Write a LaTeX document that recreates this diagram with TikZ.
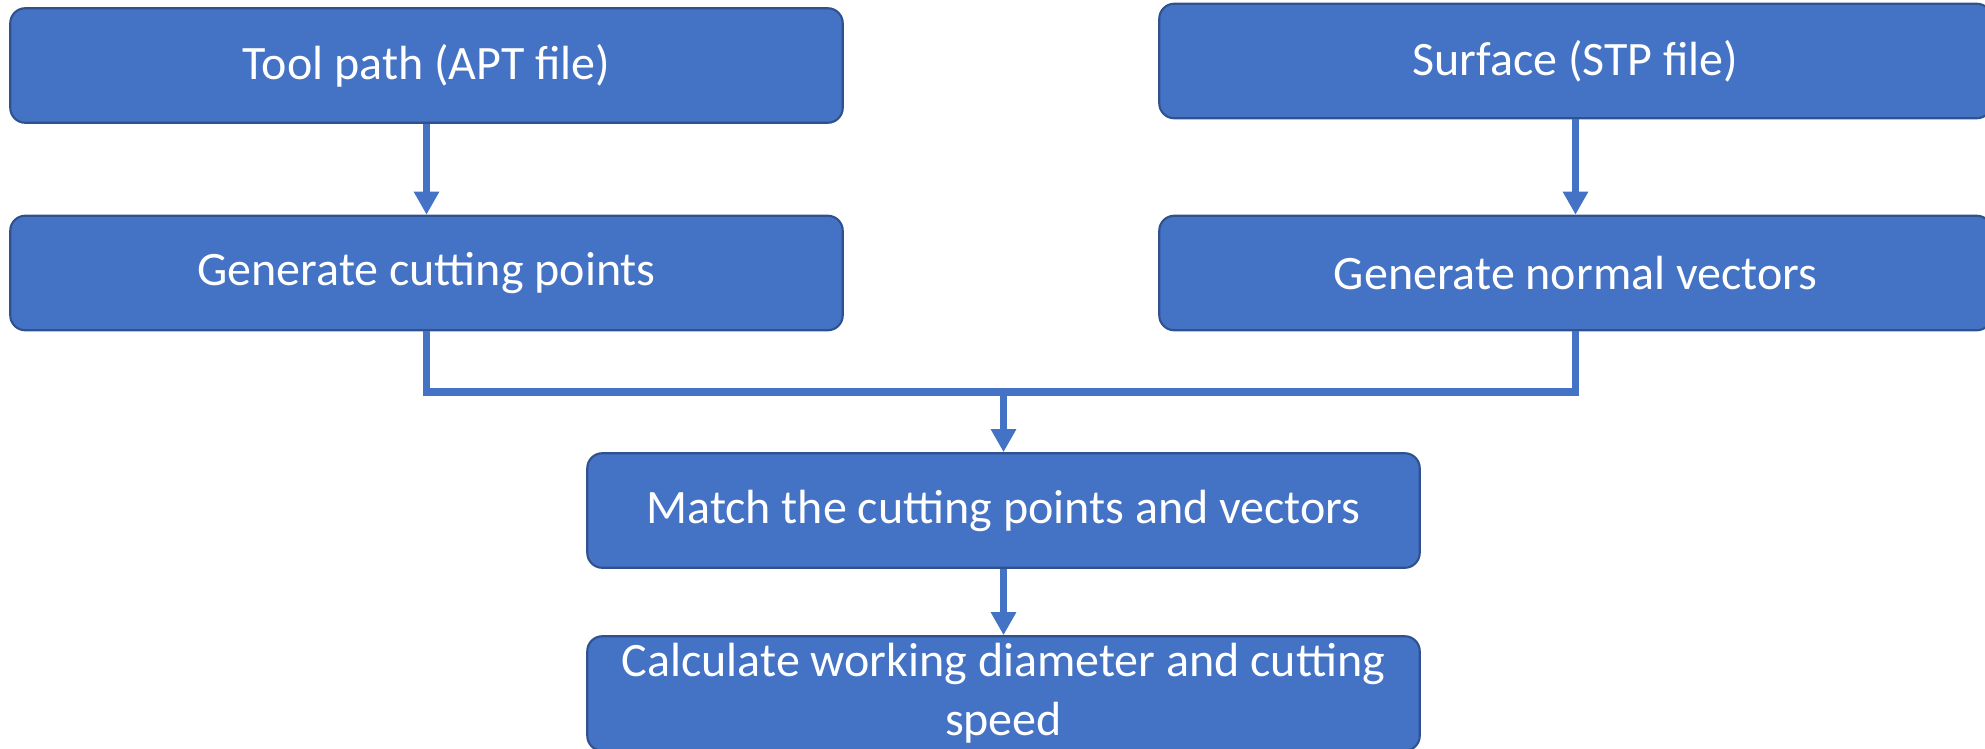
\documentclass[tikz,border=0pt]{standalone}
\usepackage{fontspec}
\setmainfont{Carlito}
\usetikzlibrary{arrows.meta}
\definecolor{officeblue}{HTML}{4472C4}
\definecolor{edgeblue}{HTML}{2F528F}

\begin{document}
\begin{tikzpicture}[x=0.01cm, y=-0.01cm,
  box/.style={draw=edgeblue, fill=officeblue, line width=0.6pt, rounded corners=0.15cm,
    minimum width=8.32cm, minimum height=1.145cm, inner sep=0pt, text=white, align=center,
    font=\fontsize{13.65}{16.8}\selectfont},
  link/.style={draw=officeblue, line width=2.2pt},
  head/.style={-{Triangle[width=0.24cm,length=0.23cm]}}]
\useasboundingbox (0,0) rectangle (1985,748);

% Boxes
\node[box] (toolpath) at (426.5,65.5) {Tool path (APT file)};
\node[box] (cutpts) at (426.5,273) {Generate cutting points};
\node[box] (surface) at (1575.5,61) {Surface (STP file)};
\node[box] (normals) at (1575.5,273) {Generate normal vectors};
\node[box] (match) at (1003.5,510.5) {Match the cutting points and vectors};
\node[box] (calc) at (1003.5,693.5) {Calculate working diameter and cutting\\speed};

% Connectors
\coordinate (joint) at (1003.5,392);
\draw[link, head] (toolpath) -- (cutpts);
\draw[link, head] (surface) -- (normals);
\draw[link] (cutpts.south) |- (joint) -| (normals.south);
\draw[link, head] (joint) -- (match);
\draw[link, head] (match) -- (calc);

\end{tikzpicture}
\end{document}
